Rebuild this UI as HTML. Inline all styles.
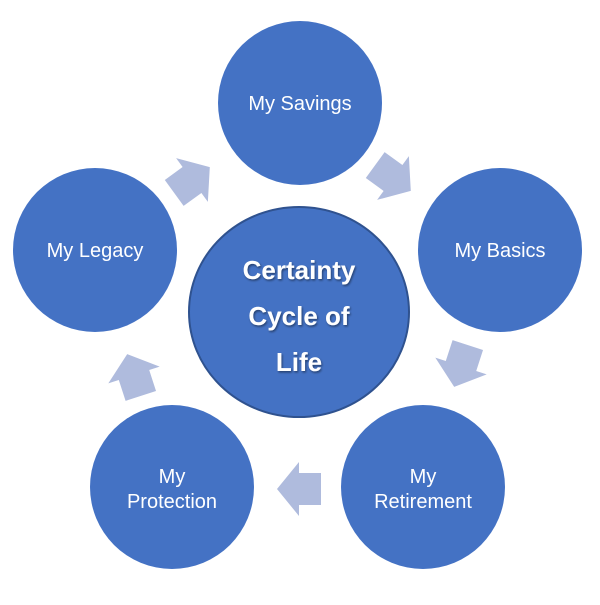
<!DOCTYPE html>
<html><head><style>
body{margin:0;background:#fff;}
</style></head><body>
<svg width="600" height="600" xmlns="http://www.w3.org/2000/svg" font-family="Liberation Sans, sans-serif">
<defs>
<filter id="sh"><feDropShadow dx="1" dy="1.5" stdDeviation="1" flood-color="#000" flood-opacity="0.45"/></filter>
<polygon id="ar" points="22,0 0,-27 0,-16 -22,-16 -22,16 0,16 0,27" fill="#AFBBDD"/>
</defs>
<rect width="600" height="600" fill="#fff"/>
<g fill="#4472C4">
<circle cx="300" cy="103" r="82"/>
<circle cx="500" cy="250" r="82"/>
<circle cx="423" cy="487" r="82"/>
<circle cx="172" cy="487" r="82"/>
<circle cx="95" cy="250" r="82"/>
</g>
<ellipse cx="299" cy="312" rx="110" ry="105" fill="#4472C4" stroke="#2F528F" stroke-width="2"/>
<use href="#ar" transform="translate(393,178) rotate(36)"/>
<use href="#ar" transform="translate(461,366) rotate(108)"/>
<use href="#ar" transform="translate(299,489) rotate(180)"/>
<use href="#ar" transform="translate(134,375) rotate(252)"/>
<use href="#ar" transform="translate(192,180) rotate(-36)"/>
<g fill="#fff" font-size="20" text-anchor="middle">
<text x="300" y="110">My Savings</text>
<text x="500" y="257">My Basics</text>
<text x="95" y="257">My Legacy</text>
<text x="423" y="483">My</text>
<text x="423" y="508">Retirement</text>
<text x="172" y="483">My</text>
<text x="172" y="508">Protection</text>
</g>
<g fill="#fff" font-size="26" font-weight="bold" text-anchor="middle" filter="url(#sh)">
<text x="299" y="279">Certainty</text>
<text x="299" y="325">Cycle of</text>
<text x="299" y="371">Life</text>
</g>
</svg>
</body></html>
